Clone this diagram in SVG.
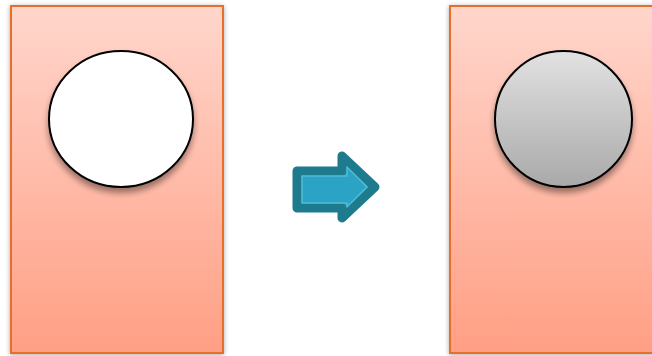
<svg xmlns="http://www.w3.org/2000/svg" width="652" height="356" viewBox="0 0 652 356">
<defs>
<linearGradient id="peach" x1="0" y1="0" x2="0" y2="1">
<stop offset="0" stop-color="#ffd6cc"/>
<stop offset="1" stop-color="#ff9f84"/>
</linearGradient>
<linearGradient id="gray" x1="0" y1="0" x2="0" y2="1">
<stop offset="0" stop-color="#e2e2e2"/>
<stop offset="1" stop-color="#a9a9a9"/>
</linearGradient>
<filter id="rshadow" x="-10%" y="-10%" width="120%" height="120%">
<feGaussianBlur in="SourceAlpha" stdDeviation="2.5"/>
<feOffset dx="0" dy="1" result="b"/>
<feComponentTransfer><feFuncA type="linear" slope="0.35"/></feComponentTransfer>
<feMerge><feMergeNode/><feMergeNode in="SourceGraphic"/></feMerge>
</filter>
<filter id="cshadow" x="-20%" y="-20%" width="140%" height="150%">
<feGaussianBlur in="SourceAlpha" stdDeviation="3"/>
<feOffset dx="0" dy="5" result="b"/>
<feComponentTransfer><feFuncA type="linear" slope="0.4"/></feComponentTransfer>
<feMerge><feMergeNode/><feMergeNode in="SourceGraphic"/></feMerge>
</filter>
<style>
.panel{fill:url(#peach);stroke:#ea6e2a;stroke-width:2;filter:url(#rshadow)}
.ball{stroke:#000;stroke-width:2;filter:url(#cshadow)}
</style>
</defs>
<g id="left-panel">
<rect class="panel" x="11" y="6" width="212" height="347"/>
</g>
<g id="left-circle">
<ellipse class="ball" cx="121" cy="119" rx="72" ry="68" fill="#fff"/>
</g>
<g id="right-panel">
<rect class="panel" x="450" y="6" width="212" height="347"/>
</g>
<g id="right-circle">
<ellipse class="ball" cx="563.5" cy="119" rx="68.5" ry="68" fill="url(#gray)"/>
</g>
<g id="connectors">
<path d="M297 171 L342 171 L342 156 L375 187 L342 218 L342 208 L297 208 Z" fill="#2aa3c4" stroke="#1e7a8d" stroke-width="9" stroke-linejoin="round"/>
<path d="M302 176 L347 176 L347 167 L367 187 L347 207 L347 203 L302 203 Z" fill="none" stroke="#5cc0dc" stroke-width="1.5" stroke-linejoin="round" opacity="0.8"/>
</g>
</svg>
